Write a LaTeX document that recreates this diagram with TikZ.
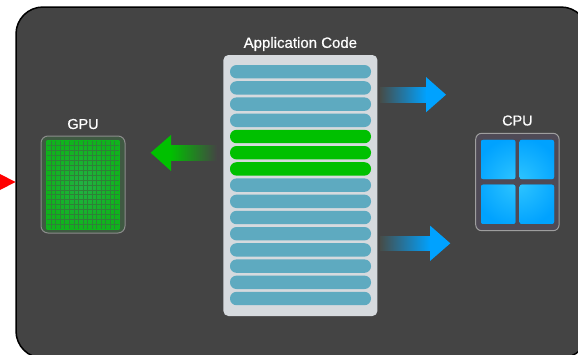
\documentclass[tikz,border=0pt]{standalone}
\usepackage{fontspec}
\setmainfont[FakeBold=0.6]{Liberation Sans}
\usepackage{tikz}
\definecolor{bgdark}{HTML}{444444}
\definecolor{panelgrey}{HTML}{D6DADE}
\definecolor{barblue}{HTML}{5EAAC0}
\definecolor{bargreen}{HTML}{00C000}
\definecolor{flowblue}{HTML}{00A2FF}
\definecolor{flowmid}{HTML}{4A8F90}
\definecolor{flowtail}{HTML}{464C48}
\definecolor{corecyan}{HTML}{30C6FF}
\definecolor{gpubox}{HTML}{3F5A42}
\definecolor{cpubox}{HTML}{4F4A56}
\definecolor{gpucell}{HTML}{0FB41C}
\definecolor{gpucentre}{HTML}{22B244}
\definecolor{gpuline}{HTML}{2F8038}
\newcommand{\codebar}[3] {\node at (#1) (#2) [rounded corners=6.5pt, fill=#3, minimum width=141pt, minimum height=13.4pt, inner sep=0pt] {};}
\newcommand{\corecell}[2] {\node at (#1) (#2) [rounded corners=2pt, fill=flowblue, minimum width=34.4pt, minimum height=39.2pt, inner sep=0pt, path picture={\shade [inner color=corecyan, outer color=flowblue] (corecentre) ++(-45,-45) rectangle ++(90,90);}] {};}
\tikzset{label text/.style={text=white, font=\fontsize{14.4pt}{16pt}\selectfont, inner sep=0pt}}
\begin{document}
\begin{tikzpicture}[x=1pt, y=-1pt]
\useasboundingbox (0,0) rectangle (578,354);

\path [draw=black, fill=bgdark, line width=1.5pt, rounded corners=27pt] (16,7) rectangle (588,358);
\fill [red] (0,174) -- (15.5,182) -- (0,190) -- cycle;

% application code
\node at (300.4,185.5) (panel) [rounded corners=5pt, fill=panelgrey, minimum width=154pt, minimum height=261pt, inner sep=0pt] {};
\node at (300.4,44) (applabel) [label text, font=\fontsize{15pt}{16pt}\selectfont] {Application Code};
\foreach \row/\barcol in {0/barblue,1/barblue,2/barblue,3/barblue,4/bargreen,5/bargreen,6/bargreen,7/barblue,8/barblue,9/barblue,10/barblue,11/barblue,12/barblue,13/barblue,14/barblue} {
  \pgfmathsetmacro{\rowy}{71.7+16.2*\row}
  \codebar{300.5,\rowy}{bar\row}{\barcol}
}

% gpu
\node at (83,184.5) (gpu) [draw=black!45, fill=gpubox, line width=1pt, rounded corners=7pt, minimum width=84pt, minimum height=97pt, inner sep=0pt] {};
\node at (83,124) (gpulabel) [label text] {GPU};
\node at (83,185) (gpugrid) [inner color=gpucentre, outer color=gpucell, shade, minimum width=72.6pt, minimum height=88.6pt, inner sep=0pt] {};
\foreach \col in {1,...,15}
  \draw [gpuline, line width=0.8pt] (46.7+\col*4.54,140.7) -- (46.7+\col*4.54,229.3);
\foreach \row in {1,...,17}
  \draw [gpuline, line width=0.8pt] (46.7,140.7+\row*4.92) -- (119.3,140.7+\row*4.92);

% cpu
\coordinate (corecentre) at (517.5,182);
\node at (517.4,182) (cpu) [draw=black!38, fill=cpubox, line width=1pt, rounded corners=6pt, minimum width=83.4pt, minimum height=97.4pt, inner sep=0pt] {};
\node at (517.4,120.5) (cpulabel) [label text] {CPU};
\corecell{498.2,159.5}{core1}
\corecell{536.8,159.5}{core2}
\corecell{498.2,204.3}{core3}
\corecell{536.8,204.3}{core4}

% arrows
\coordinate (flowtop) at (446,94.7);
\coordinate (flowlow) at (450.3,243.3);
\coordinate (flowgpu) at (150.7,152.7);
\shade [left color=flowtail, middle color=flowmid, right color=flowblue] (380,87.3) rectangle (426.5,102);
\fill [flowblue] (flowtop) -- (426,77) -- (426,112.3) -- cycle;
\shade [left color=flowtail, middle color=flowmid, right color=flowblue] (380,236) rectangle (430.5,250.7);
\fill [flowblue] (flowlow) -- (430,225.6) -- (430,261) -- cycle;
\shade [left color=bargreen, right color=bgdark] (170.5,145.7) rectangle (217,160);
\fill [bargreen] (flowgpu) -- (171,135) -- (171,171) -- cycle;

\end{tikzpicture}
\end{document}
